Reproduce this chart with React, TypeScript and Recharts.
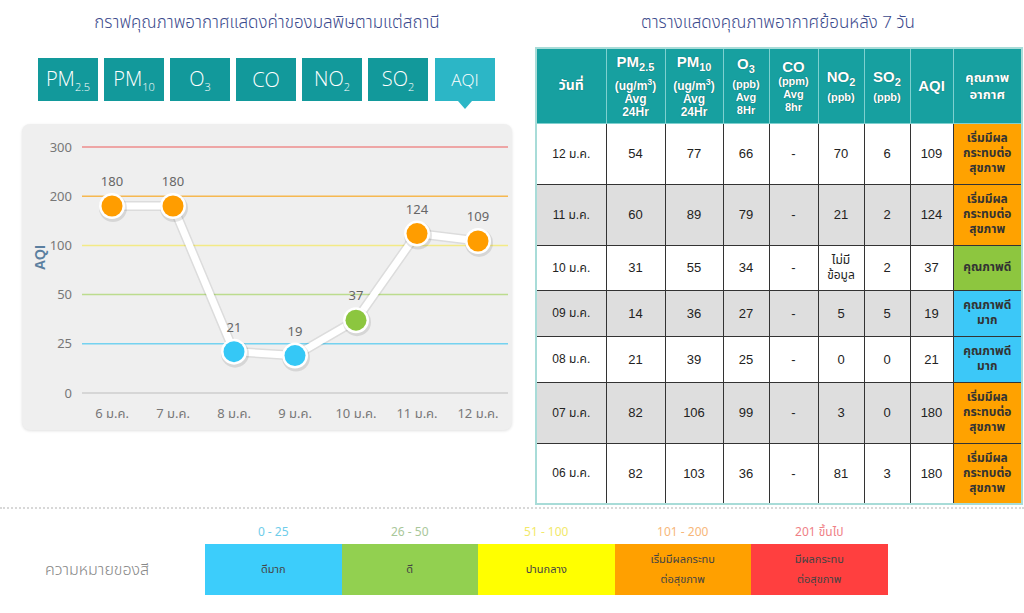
import { LineChart, Line, XAxis, YAxis, ReferenceLine, LabelList } from 'recharts'

// ข้อมูลกราฟ AQI
const dates = ['6 ม.ค.', '7 ม.ค.', '8 ม.ค.', '9 ม.ค.', '10 ม.ค.', '11 ม.ค.', '12 ม.ค.']
const aqi = [180, 180, 21, 19, 37, 124, 109]
const tickValues = [0, 25, 50, 100, 200, 300]
const gridColors = ['#bdbdbd', '#74d2f0', '#bcdc8e', '#f3ea86', '#f6b850', '#ee8d8d']

// ข้อมูลตาราง 7 วัน
const tableDates = ['12 ม.ค.', '11 ม.ค.', '10 ม.ค.', '09 ม.ค.', '08 ม.ค.', '07 ม.ค.', '06 ม.ค.']
const pm25 = ['54', '60', '31', '14', '21', '82', '82']
const pm10 = ['77', '89', '55', '36', '39', '106', '103']
const o3 = ['66', '79', '34', '27', '25', '99', '36']
const co = ['-', '-', '-', '-', '-', '-', '-']
const no2 = ['70', '21', 'ไม่มี\nข้อมูล', '5', '0', '3', '81']
const so2 = ['6', '2', '2', '5', '0', '0', '3']
const tableAqi = [109, 124, 37, 19, 21, 180, 180]
const rowHeights = [61, 61, 45, 46, 46, 61, 61]

// ความหมายของสี
const levelRanges = ['0 - 25', '26 - 50', '51 - 100', '101 - 200', '201 ขึ้นไป']
const levelNames = ['ดีมาก', 'ดี', 'ปานกลาง', 'เริ่มมีผลกระทบ\nต่อสุขภาพ', 'มีผลกระทบ\nต่อสุขภาพ']
const levelColors = ['#3ccdfb', '#92d050', '#ffff00', '#ffa000', '#ff3f3f']
const levelRangeColors = ['#6fcdea', '#a9c79a', '#f2e96a', '#f7b77a', '#ef7f86']
const qualityText = ['คุณภาพดี\nมาก', 'คุณภาพดี', 'ปานกลาง', 'เริ่มมีผล\nกระทบต่อ\nสุขภาพ', 'มีผลกระทบ\nต่อสุขภาพ']
const dotColors = ['#35c8f6', '#8cc63f', '#f5e400', '#ff9d00', '#ff4040']
const cellColors = ['#3cc8f8', '#8dc63f', '#ffff00', '#ffa200', '#ff4040']

const tabs = ['PM|2.5', 'PM|10', 'O|3', 'CO|', 'NO|2', 'SO|2', 'AQI|']

function level(v: number) {
  if (v <= 25) return 0
  if (v <= 50) return 1
  if (v <= 100) return 2
  if (v <= 200) return 3
  return 4
}

// แปลงค่าให้อยู่บนสเกลแบบช่วง (0,25,50,100,200,300 ห่างเท่ากัน)
function toPos(v: number) {
  for (let i = 0; i < tickValues.length - 1; i++) {
    if (v <= tickValues[i + 1]) {
      return i + (v - tickValues[i]) / (tickValues[i + 1] - tickValues[i])
    }
  }
  return tickValues.length - 1
}

const chartData = dates.map((d, i) => ({ date: d, aqi: aqi[i], pos: toPos(aqi[i]) }))

const thaiFont = '"Noto Sans Thai", "Noto Sans", "DejaVu Sans", sans-serif'
const tableFont = '"Liberation Sans", Arial, "Noto Sans Thai", "DejaVu Sans", sans-serif'

function AqiDot(props: any) {
  const { cx, cy, payload } = props
  if (cx == null || cy == null) return null
  return (
    <g>
      <circle cx={cx + 1} cy={cy + 2} r={14} fill="rgba(0,0,0,0.10)" />
      <circle cx={cx} cy={cy} r={13} fill="#fff" />
      <circle cx={cx} cy={cy} r={10.5} fill={dotColors[level(payload.aqi)]} />
    </g>
  )
}

function Lines({ text }: { text: string }) {
  return (
    <>
      {text.split('\n').map((t, i) => (
        <div key={i}>{t}</div>
      ))}
    </>
  )
}

function Tabs() {
  return (
    <div style={{ position: 'absolute', left: 38, top: 58, display: 'flex', gap: 6 }}>
      {tabs.map((t, i) => {
        const [main, sub] = t.split('|')
        const active = i === tabs.length - 1
        return (
          <div key={t} style={{ position: 'relative', width: 60, height: 43, background: active ? '#2cb6c6' : '#12999b',
            color: '#fff', display: 'flex', alignItems: 'center', justifyContent: 'center',
            fontFamily: '"Open Sans", sans-serif', fontSize: active ? 17 : 20, fontWeight: 300, marginLeft: active ? 1 : 0 }}>
            <span>{main}{sub && <sub style={{ fontSize: 11 }}>{sub}</sub>}</span>
            {active && (
              <div style={{ position: 'absolute', bottom: -8, left: 23, width: 0, height: 0,
                borderLeft: '7px solid transparent', borderRight: '7px solid transparent', borderTop: '8px solid #2cb6c6' }} />
            )}
          </div>
        )
      })}
    </div>
  )
}

function AqiChart() {
  return (
    <div style={{ position: 'absolute', left: 22, top: 124, width: 490, height: 306, background: '#efefef',
      borderRadius: 8, boxShadow: '0 1px 3px rgba(0,0,0,0.12)' }}>
      <LineChart width={490} height={306} data={chartData} margin={{ top: 23, right: 4, bottom: 7, left: 10 }}>
        {gridColors.map((c, i) => i > 0 && (
          <ReferenceLine key={i} y={i} stroke={c} strokeWidth={1.5} />
        ))}
        <XAxis dataKey="date" height={30} padding={{ left: 30, right: 30 }} axisLine={{ stroke: '#bdbdbd' }}
          tickLine={false} tickMargin={10} tick={{ fill: '#777', fontSize: 13, fontFamily: thaiFont }} />
        <YAxis type="number" domain={[0, 5]} ticks={[0, 1, 2, 3, 4, 5]} width={50} axisLine={false} tickLine={false}
          tickMargin={4} tickFormatter={(i: number) => String(tickValues[i])}
          tick={{ fill: '#777', fontSize: 13, fontFamily: thaiFont }}
          label={{ value: 'AQI', angle: -90, position: 'insideLeft', offset: 8, fill: '#5b7fa0', fontSize: 14,
            fontWeight: 700, fontFamily: '"Liberation Sans", Arial, sans-serif' }} />
        <Line dataKey="pos" stroke="rgba(0,0,0,0.08)" strokeWidth={10} dot={false} activeDot={false} isAnimationActive={false} />
        <Line dataKey="pos" stroke="#ffffff" strokeWidth={7} dot={<AqiDot />} activeDot={false} isAnimationActive={false}>
          <LabelList dataKey="aqi" position="top" offset={20} fill="#666" fontSize={13} fontFamily={thaiFont} />
        </Line>
      </LineChart>
    </div>
  )
}

function AqiTable() {
  const widths = [70, 59, 58, 46, 49, 46, 46, 43, 69]
  const headCell = { color: '#fff', fontWeight: 700, textAlign: 'center' as const, border: '1px solid #7fd0cf',
    padding: 0, lineHeight: '13px', fontSize: 12, textShadow: '0 0 1px #155', verticalAlign: 'middle' as const }
  const big = { fontSize: 15, lineHeight: '17px' }
  const cell = { border: '1px solid #333', textAlign: 'center' as const, fontSize: 13, color: '#222', padding: 0,
    verticalAlign: 'middle' as const }
  return (
    <table style={{ position: 'absolute', left: 535, top: 47, borderCollapse: 'collapse', tableLayout: 'fixed',
      width: 486, fontFamily: tableFont, border: '2px solid #a8dcd8' }}>
      <colgroup>
        {widths.map((w, i) => <col key={i} style={{ width: w }} />)}
      </colgroup>
      <thead>
        <tr style={{ height: 75, background: '#17a0a0' }}>
          <th style={{ ...headCell, fontSize: 14 }}>วันที่</th>
          <th style={headCell}><div style={big}>PM<sub style={{ fontSize: 11 }}>2.5</sub></div><div>(ug/m<sup style={{ fontSize: 9 }}>3</sup>)</div><div>Avg</div><div>24Hr</div></th>
          <th style={headCell}><div style={big}>PM<sub style={{ fontSize: 11 }}>10</sub></div><div>(ug/m<sup style={{ fontSize: 9 }}>3</sup>)</div><div>Avg</div><div>24Hr</div></th>
          <th style={headCell}><div style={big}>O<sub style={{ fontSize: 11 }}>3</sub></div><div style={{ fontSize: 11 }}>(ppb)</div><div style={{ fontSize: 11 }}>Avg</div><div style={{ fontSize: 11 }}>8Hr</div></th>
          <th style={headCell}><div style={big}>CO</div><div style={{ fontSize: 11 }}>(ppm)</div><div style={{ fontSize: 11 }}>Avg</div><div style={{ fontSize: 11 }}>8hr</div></th>
          <th style={headCell}><div style={big}>NO<sub style={{ fontSize: 11 }}>2</sub></div><div style={{ fontSize: 11 }}>(ppb)</div></th>
          <th style={headCell}><div style={big}>SO<sub style={{ fontSize: 11 }}>2</sub></div><div style={{ fontSize: 11 }}>(ppb)</div></th>
          <th style={{ ...headCell, fontSize: 15 }}>AQI</th>
          <th style={{ ...headCell, fontSize: 13, lineHeight: '17px' }}>คุณภาพ<br />อากาศ</th>
        </tr>
      </thead>
      <tbody>
        {tableDates.map((d, i) => {
          const lv = level(tableAqi[i])
          return (
            <tr key={d} style={{ height: rowHeights[i], background: i % 2 === 1 ? '#dedede' : '#fff' }}>
              <td style={{ ...cell, fontSize: 12 }}>{d}</td>
              <td style={cell}>{pm25[i]}</td>
              <td style={cell}>{pm10[i]}</td>
              <td style={cell}>{o3[i]}</td>
              <td style={cell}>{co[i]}</td>
              <td style={{ ...cell, fontSize: no2[i].includes('\n') ? 12 : 13, lineHeight: '15px' }}><Lines text={no2[i]} /></td>
              <td style={cell}>{so2[i]}</td>
              <td style={cell}>{tableAqi[i]}</td>
              <td style={{ ...cell, background: cellColors[lv], fontSize: 12, fontWeight: 700, lineHeight: '15px', color: '#333' }}>
                <Lines text={qualityText[lv]} />
              </td>
            </tr>
          )
        })}
      </tbody>
    </table>
  )
}

function ColorLegend() {
  return (
    <>
      <div style={{ position: 'absolute', left: 0, top: 507, width: 1024, borderTop: '2px dotted #d8d8d8' }} />
      <div style={{ position: 'absolute', left: 45, top: 558, fontFamily: thaiFont, fontSize: 16, fontWeight: 300, color: '#888' }}>ความหมายของสี</div>
      <div style={{ position: 'absolute', left: 205, top: 523, display: 'flex' }}>
        {levelColors.map((c, i) => (
          <div key={i} style={{ width: 136.5, textAlign: 'center', fontFamily: thaiFont }}>
            <div style={{ color: levelRangeColors[i], fontSize: 12, height: 21 }}>{levelRanges[i]}</div>
            <div style={{ background: c, height: 51, display: 'flex', flexDirection: 'column', justifyContent: 'center',
              fontSize: 11, lineHeight: '20px', color: '#444' }}>
              <Lines text={levelNames[i]} />
            </div>
          </div>
        ))}
      </div>
    </>
  )
}

export default function App() {
  return (
    <div style={{ position: 'absolute', left: 0, top: 0, width: 1024, height: 613, background: '#fff', overflow: 'hidden' }}>
      <div style={{ position: 'absolute', left: 22, width: 490, top: 10, textAlign: 'center', fontFamily: thaiFont,
        fontSize: 17, fontWeight: 300, color: '#3b4a8c' }}>กราฟคุณภาพอากาศแสดงค่าของมลพิษตามแต่สถานี</div>
      <div style={{ position: 'absolute', left: 535, width: 486, top: 10, textAlign: 'center', fontFamily: thaiFont,
        fontSize: 17, fontWeight: 300, color: '#3b4a8c' }}>ตารางแสดงคุณภาพอากาศย้อนหลัง 7 วัน</div>
      <Tabs />
      <AqiChart />
      <AqiTable />
      <ColorLegend />
    </div>
  )
}
